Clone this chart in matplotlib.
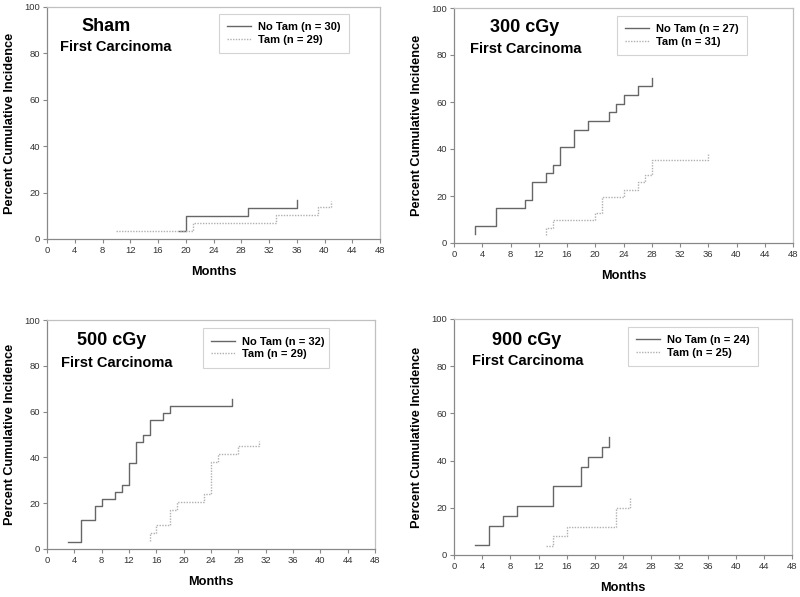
import matplotlib
matplotlib.use("Agg")
import matplotlib.pyplot as plt

plt.rcParams['font.family'] = ['Liberation Sans', 'DejaVu Sans']

# ---- data ----
panel_titles = ["Sham", "300 cGy", "500 cGy", "900 cGy"]
subtitle = "First Carcinoma"
notam_labels = ["No Tam (n = 30)", "No Tam (n = 27)", "No Tam (n = 32)", "No Tam (n = 24)"]
tam_labels = ["Tam (n = 29)", "Tam (n = 31)", "Tam (n = 29)", "Tam (n = 25)"]

sham_notam_x = [19, 20, 29, 36]
sham_notam_y = [3.3, 10.0, 13.3, 16.7]
sham_tam_x = [10, 21, 33, 39, 41]
sham_tam_y = [3.4, 6.9, 10.3, 13.8, 16.5]

g300_notam_x = [3, 3, 6, 10, 11, 13, 14, 15, 17, 19, 22, 23, 24, 26, 28]
g300_notam_y = [3.7, 7.4, 14.8, 18.5, 25.9, 29.6, 33.3, 40.7, 48.1, 51.9, 55.6, 59.3, 63.0, 66.7, 70.4]
g300_tam_x = [13, 13, 14, 20, 21, 24, 26, 27, 28, 36]
g300_tam_y = [3.2, 6.5, 9.7, 12.9, 19.4, 22.6, 25.8, 29.0, 35.5, 38.0]

g500_notam_x = [3, 5, 7, 8, 10, 11, 12, 13, 14, 15, 17, 18, 27]
g500_notam_y = [3.1, 12.5, 18.75, 21.9, 25.0, 28.1, 37.5, 46.9, 50.0, 56.25, 59.4, 62.5, 65.6]
g500_tam_x = [15, 15, 16, 18, 19, 23, 24, 25, 28, 31]
g500_tam_y = [3.4, 6.9, 10.3, 17.2, 20.7, 24.1, 37.9, 41.4, 44.8, 47.2]

g900_notam_x = [3, 5, 7, 9, 14, 18, 19, 21, 22]
g900_notam_y = [4.2, 12.5, 16.7, 20.8, 29.2, 37.5, 41.7, 45.8, 50.0]
g900_tam_x = [13, 14, 16, 23, 25]
g900_tam_y = [4.0, 8.0, 12.0, 20.0, 24.0]

x_ticks = list(range(0, 49, 4))
y_ticks = list(range(0, 101, 20))

series = [
    (sham_notam_x, sham_notam_y, sham_tam_x, sham_tam_y),
    (g300_notam_x, g300_notam_y, g300_tam_x, g300_tam_y),
    (g500_notam_x, g500_notam_y, g500_tam_x, g500_tam_y),
    (g900_notam_x, g900_notam_y, g900_tam_x, g900_tam_y),
]

# ---- layout (figure fractions) ----
W, H = 800, 597
axes_px = [(47, 7, 380, 239), (454, 8, 793, 243), (47, 320, 375, 549), (454, 319, 792, 555)]
title_pos = [(0.177, 0.918), (0.209, 0.919), (0.196, 0.91), (0.216, 0.911)]
sub_pos = [(0.207, 0.828), (0.211, 0.826), (0.212, 0.814), (0.217, 0.822)]
leg_box = [(0.517, 0.97, 0.39), (0.481, 0.966, 0.383), (0.476, 0.964, 0.384), (0.515, 0.967, 0.385)]

fig = plt.figure(figsize=(8, 5.97), dpi=100)

for i in range(4):
    l, t, r, b = axes_px[i]
    ax = fig.add_axes([l / W, 1 - b / H, (r - l) / W, (b - t) / H])
    nx, ny, tx, ty = series[i]
    ax.plot(nx, ny, drawstyle='steps-post', color='#666666', lw=1.0, label=notam_labels[i])
    ax.plot(tx, ty, drawstyle='steps-post', color='#b0b0b0', lw=1.0, linestyle=(0, (1, 1)),
            label=tam_labels[i])
    ax.set_xlim(0, 48)
    ax.set_ylim(0, 100)
    ax.set_xticks(x_ticks)
    ax.set_yticks(y_ticks)
    ax.tick_params(labelsize=6.8, length=3, width=0.8, colors='#888888', labelcolor='#333333', pad=2)
    for s in ['left', 'bottom']:
        ax.spines[s].set_color('#888888')
        ax.spines[s].set_linewidth(0.9)
    for s in ['top', 'right']:
        ax.spines[s].set_color('#c0c0c0')
        ax.spines[s].set_linewidth(0.9)
    ax.set_xlabel("Months", fontsize=9.2, fontweight='bold', labelpad=8)
    ax.set_ylabel("Percent Cumulative Incidence", fontsize=9.2, fontweight='bold', labelpad=6)
    ax.text(*title_pos[i], panel_titles[i], transform=ax.transAxes, ha='center', va='center',
            fontsize=13, fontweight='bold')
    ax.text(*sub_pos[i], subtitle, transform=ax.transAxes, ha='center', va='center',
            fontsize=10.5, fontweight='bold')
    x0, y1, w = leg_box[i]
    leg = ax.legend(loc='upper left', bbox_to_anchor=(x0, y1 - 0.17, w, 0.17), mode='expand',
                    borderaxespad=0, prop={'weight': 'bold', 'size': 8},
                    frameon=True, fancybox=False, handlelength=2.1, handletextpad=0.65,
                    labelspacing=0.25, borderpad=0.75)
    leg.get_frame().set_edgecolor('#c8c8c8')
    leg.get_frame().set_linewidth(0.8)

fig.savefig("out.png", dpi=100)
